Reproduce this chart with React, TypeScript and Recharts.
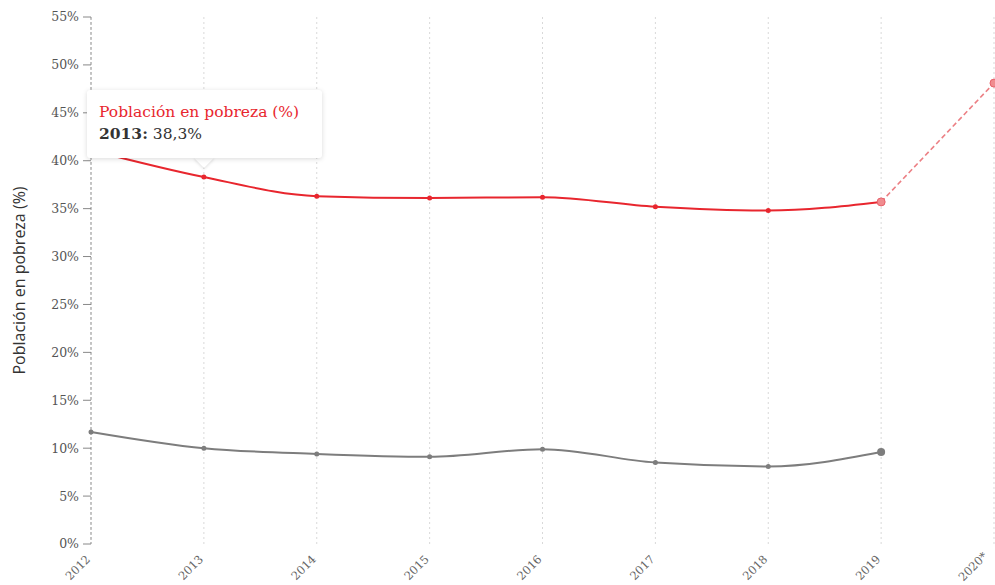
import { CartesianGrid, Line, LineChart, Tooltip, XAxis, YAxis } from "recharts";

const years = ["2012", "2013", "2014", "2015", "2016", "2017", "2018", "2019", "2020*"];
const pobreza = [41.1, 38.3, 36.3, 36.1, 36.2, 35.2, 34.8, 35.7, null];
const proyeccion = [null, null, null, null, null, null, null, 35.7, 48.1];
const extrema = [11.7, 10.0, 9.4, 9.1, 9.9, 8.5, 8.1, 9.6, null];
const yTicks = [0, 5, 10, 15, 20, 25, 30, 35, 40, 45, 50, 55];

const data = years.map((year, i) => ({
  year,
  pobreza: pobreza[i],
  proyeccion: proyeccion[i],
  extrema: extrema[i],
}));

const RED = "#e8262e";
const GREY = "#7d7d7d";
const SERIF = "'DejaVu Serif', 'Liberation Serif', serif";

const XTick = (props: any) => {
  const { x, y, payload, index } = props;
  // the last label sits in the corner, nudge it in so it stays visible
  const last = index === years.length - 1;
  const dx = last ? -6 : 0;
  const dy = last ? 5 : 8;
  return (
    <g transform={`translate(${x + dx},${y + dy})`}>
      <text
        x={0}
        y={0}
        textAnchor="end"
        transform="rotate(-45)"
        fill="#666"
        fontSize={11.5}
        fontFamily={SERIF}
      >
        {payload.value}
      </text>
    </g>
  );
};

const YTitle = (props: any) => {
  const { viewBox } = props;
  const cy = viewBox ? viewBox.y + viewBox.height / 2 : 280;
  return (
    <text
      x={0}
      y={0}
      transform={`translate(25,${cy}) rotate(-90)`}
      textAnchor="middle"
      fill="#333"
      fontSize={16}
      fontFamily="'Open Sans', sans-serif"
    >
      Población en pobreza (%)
    </text>
  );
};

const smallDot = (color: string) => (props: any) => {
  const { cx, cy, index, value } = props;
  if (value == null || cy == null) return <g key={`d-${index}`} />;
  const big = index === 7;
  return (
    <circle
      key={`d-${index}`}
      cx={cx}
      cy={cy}
      r={big ? 4 : 2.5}
      fill={color}
      stroke="none"
    />
  );
};

const projDot = (props: any) => {
  const { cx, cy, index, value } = props;
  if (value == null || cy == null) return <g key={`p-${index}`} />;
  return (
    <circle
      key={`p-${index}`}
      cx={cx}
      cy={cy}
      r={4}
      fill="#f08c8f"
      stroke="#e8606a"
      strokeWidth={1}
    />
  );
};

const CustomTooltip = ({ payload, label }: any) => {
  const item = (payload || []).find((p: any) => p.dataKey === "pobreza");
  if (!item) return null;
  return (
    <div style={{ position: "relative", width: 235 }}>
      <div
        style={{
          position: "absolute",
          left: 110,
          bottom: -7,
          width: 14,
          height: 14,
          background: "#fff",
          transform: "rotate(45deg)",
          boxShadow: "1px 1px 3px rgba(0,0,0,0.12)",
        }}
      />
      <div
        style={{
          position: "relative",
          background: "#fff",
          borderRadius: 3,
          boxShadow: "0 1px 5px rgba(0,0,0,0.15)",
          padding: "11px 12px 13px 12px",
          fontFamily: SERIF,
          lineHeight: "22px",
          whiteSpace: "nowrap",
        }}
      >
        <div style={{ color: RED, fontSize: 15.5 }}>Población en pobreza (%)</div>
        <div style={{ color: "#333", fontSize: 15.5 }}>
          <b>{label}:</b> {String(item.value).replace(".", ",")}%
        </div>
      </div>
    </div>
  );
};

export default function App() {
  return (
    <div style={{ position: "absolute", left: 0, top: 0, background: "#fff" }}>
      <LineChart
        width={995}
        height={585}
        data={data}
        margin={{ top: 17, right: 1, left: 0, bottom: 0 }}
      >
        <CartesianGrid
          horizontal={false}
          stroke="#d9d9d9"
          strokeDasharray="2 3"
        />
        <XAxis
          dataKey="year"
          axisLine={false}
          tickLine={false}
          height={41}
          interval={0}
          tick={<XTick />}
        />
        <YAxis
          width={91}
          domain={[0, 55]}
          ticks={yTicks}
          tickFormatter={(v: number) => `${v}%`}
          axisLine={{ stroke: "#9a9a9a", strokeDasharray: "3 2" }}
          tickLine={{ stroke: "#888" }}
          tickSize={8}
          tickMargin={4}
          tick={{ fill: "#555", fontSize: 12.5, fontFamily: SERIF }}
          label={<YTitle />}
        />
        <Tooltip
          active={true}
          defaultIndex={1}
          position={{ x: 87, y: 90 }}
          cursor={false}
          isAnimationActive={false}
          content={<CustomTooltip />}
          wrapperStyle={{ zIndex: 10, outline: "none" }}
        />
        <Line
          type="monotone"
          dataKey="extrema"
          name="Población en pobreza extrema (%)"
          stroke={GREY}
          strokeWidth={2}
          dot={smallDot(GREY)}
          activeDot={false}
          connectNulls={false}
          isAnimationActive={false}
        />
        <Line
          type="linear"
          dataKey="proyeccion"
          name="Proyección"
          stroke="#ec7f84"
          strokeWidth={1.6}
          strokeDasharray="5 3"
          dot={projDot}
          activeDot={false}
          isAnimationActive={false}
        />
        <Line
          type="monotone"
          dataKey="pobreza"
          name="Población en pobreza (%)"
          stroke={RED}
          strokeWidth={2}
          dot={(p: any) => (p.index === 7 ? <g key="skip" /> : smallDot(RED)(p))}
          activeDot={false}
          isAnimationActive={false}
        />
      </LineChart>
    </div>
  );
}
